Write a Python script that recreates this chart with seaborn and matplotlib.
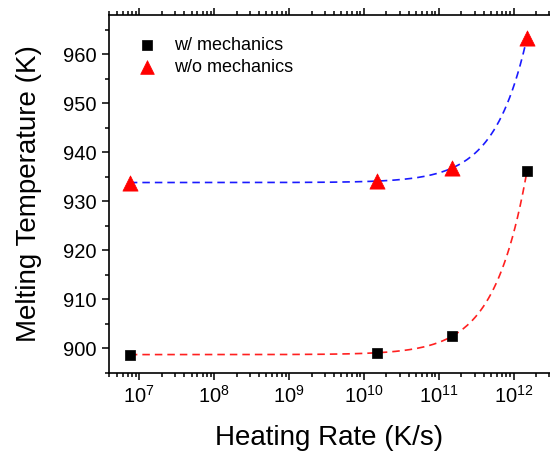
import numpy as np
import pandas as pd
import matplotlib
matplotlib.use("Agg")
import matplotlib.pyplot as plt
from matplotlib.ticker import MultipleLocator, LogLocator
import seaborn as sns

# data
heating_rate = [7.5e6, 1.5e10, 1.5e11, 1.5e12]
temp_with_mech = [898.7, 899.1, 902.4, 936.1]
temp_without_mech = [933.7, 934.2, 936.8, 963.3]

sns.set_style("ticks")
plt.rcParams["font.family"] = ["Liberation Sans", "DejaVu Sans"]
plt.rcParams["mathtext.default"] = "regular"
for key in ["text.color", "axes.labelcolor", "xtick.color", "ytick.color", "axes.edgecolor"]:
    plt.rcParams[key] = "black"

df = pd.DataFrame({
    "rate": heating_rate * 2,
    "temp": temp_with_mech + temp_without_mech,
    "series": ["w/ mechanics"] * 4 + ["w/o mechanics"] * 4,
})


def linear_fit(x, y):
    # straight-line fit in T vs rate, drawn on a log axis
    coef = np.polyfit(x, y, 1)
    xs = np.logspace(np.log10(x[0]), np.log10(x[-1]), 300)
    return pd.DataFrame({"rate": xs, "temp": np.polyval(coef, xs)})


fit_with = linear_fit(heating_rate, temp_with_mech)
fit_without = linear_fit(heating_rate, temp_without_mech)

fig = plt.figure(figsize=(5.5, 4.51), dpi=100)
ax = fig.add_axes([0.198, 0.1736, 0.802, 0.793])

sns.lineplot(data=fit_with, x="rate", y="temp", ax=ax, color="#ff2020",
             linestyle=(0, (4.5, 3)), linewidth=1.2, zorder=2)
sns.lineplot(data=fit_without, x="rate", y="temp", ax=ax, color="#1a1aff",
             linestyle=(0, (4.5, 3)), linewidth=1.2, zorder=2)

sub = df[df["series"] == "w/ mechanics"]
sns.scatterplot(data=sub, x="rate", y="temp", ax=ax, marker="s", s=60,
                color="black", edgecolor="black", linewidth=0.5,
                label="w/ mechanics", zorder=3)
sub = df[df["series"] == "w/o mechanics"]
sns.scatterplot(data=sub, x="rate", y="temp", ax=ax, marker="^", s=120,
                color="red", edgecolor="red", linewidth=0.5,
                label="w/o mechanics", zorder=3)

ax.set_xscale("log")
ax.set_xlim(3.94e6, 3.05e12)
ax.set_ylim(895, 968)
ax.yaxis.set_major_locator(MultipleLocator(10))
ax.yaxis.set_minor_locator(MultipleLocator(5))
ax.xaxis.set_major_locator(LogLocator(base=10, numticks=20))
ax.xaxis.set_minor_locator(LogLocator(base=10, subs=np.arange(2, 10), numticks=20))

for side in ["left", "bottom", "top"]:
    ax.spines[side].set_linewidth(1.2)
ax.spines["right"].set_visible(False)

ax.tick_params(which="both", direction="out", top=True, right=False,
               labeltop=False, width=1.1, labelsize=14.5, pad=4)
ax.tick_params(which="major", length=5)
ax.tick_params(which="minor", length=3)

ax.set_xlabel("Heating Rate (K/s)", fontsize=20, labelpad=13)
ax.set_ylabel("Melting Temperature (K)", fontsize=20, labelpad=15)

ax.legend(loc="upper left", bbox_to_anchor=(0.02, 0.99), frameon=False,
          fontsize=13, handlelength=1.2, handletextpad=0.9, labelspacing=0.3,
          borderaxespad=0.6, markerscale=0.9)

fig.savefig("out.png", dpi=100)
